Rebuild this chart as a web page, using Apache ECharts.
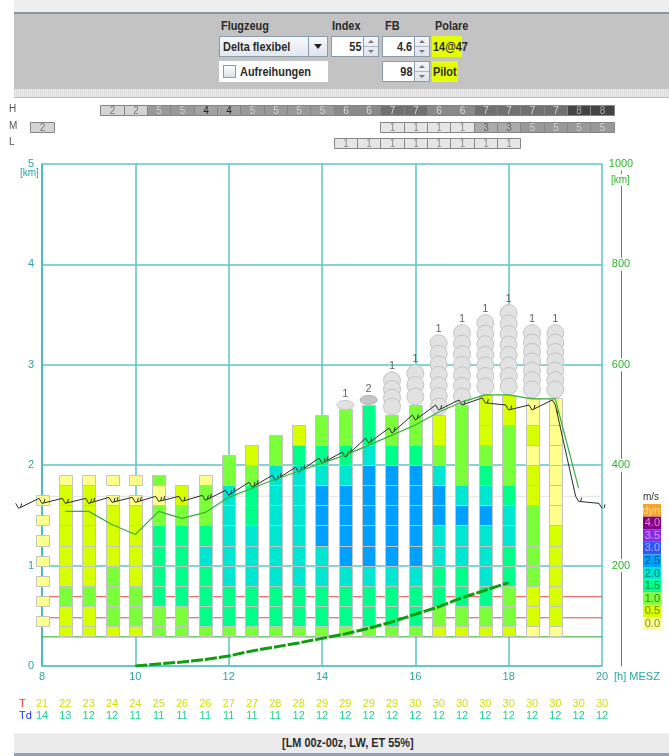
<!DOCTYPE html>
<html>
<head>
<meta charset="utf-8">
<script src="https://cdn.jsdelivr.net/npm/echarts@6/dist/echarts.min.js"></script>
<style>
html,body{margin:0;padding:0;width:669px;height:756px;overflow:hidden;background:#fff;}
#chart{position:absolute;left:0;top:0;width:669px;height:756px;}
.abs{position:absolute;box-sizing:border-box;}
.nf{font-family:"Liberation Sans",Arial,sans-serif;font-weight:bold;font-size:13px;color:#2b2b2b;white-space:nowrap;}
.n{display:inline-block;transform:scaleX(0.84);transform-origin:0 50%;}
.nr{display:inline-block;transform:scaleX(0.84);transform-origin:100% 50%;}
.field{position:absolute;box-sizing:border-box;background:#fff;border:1px solid #8b9bab;text-align:right;padding-right:2px;line-height:19px;height:21px;}
.spin{position:absolute;box-sizing:border-box;width:15px;height:21px;border:1px solid #8b9bab;border-left:none;background:linear-gradient(#f4f6f9,#dfe5ec);}
.spin .up{position:absolute;left:4px;top:3px;width:0;height:0;border-left:3px solid transparent;border-right:3px solid transparent;border-bottom:3px solid #777;}
.spin .dn{position:absolute;left:4px;bottom:3px;width:0;height:0;border-left:3px solid transparent;border-right:3px solid transparent;border-top:3px solid #777;}
.spin .mid{position:absolute;left:0;right:0;top:9px;height:1px;background:#b0bac4;}
.yel{position:absolute;box-sizing:border-box;background:#e4ff00;line-height:21px;height:21px;padding-left:1px;}
</style>
</head>
<body>
<div id="chart"></div>

<!-- top control panel -->
<div class="abs" style="left:14px;top:0;width:655px;height:12px;background:#eeeeee"></div>
<div class="abs" style="left:14px;top:12px;width:655px;height:2px;background:#8796a3"></div>
<div class="abs" style="left:14px;top:14px;width:655px;height:75px;background:#c3c3c3"></div>
<div class="abs" style="left:14px;top:89px;width:655px;height:8px;background:repeating-linear-gradient(90deg,#dcdcdc 0 1px,#ececec 1px 2px)"></div>
<div class="abs" style="left:14px;top:97px;width:655px;height:1px;background:#b8b8b8"></div>

<div class="abs nf" style="left:221px;top:18px"><span class="n">Flugzeug</span></div>
<div class="abs nf" style="left:332px;top:18px"><span class="n">Index</span></div>
<div class="abs nf" style="left:385px;top:18px"><span class="n">FB</span></div>
<div class="abs nf" style="left:435px;top:18px"><span class="n">Polare</span></div>

<div class="abs nf" style="left:219px;top:36px;width:90px;height:21px;border:1px solid #8b9bab;background:linear-gradient(#f6f8fb,#e2e8ef);line-height:19px;padding-left:3px"><span class="n">Delta flexibel</span></div>
<div class="abs" style="left:308px;top:36px;width:20px;height:21px;border:1px solid #8b9bab;background:linear-gradient(#f6f8fb,#dfe5ec)">
  <div style="position:absolute;left:5px;top:7px;width:0;height:0;border-left:4px solid transparent;border-right:4px solid transparent;border-top:5px solid #222"></div>
</div>

<div class="field nf" style="left:331px;top:36px;width:33px"><span class="nr">55</span></div>
<div class="spin" style="left:364px;top:36px"><div class="up"></div><div class="mid"></div><div class="dn"></div></div>

<div class="field nf" style="left:382px;top:36px;width:33px"><span class="nr">4.6</span></div>
<div class="spin" style="left:415px;top:36px"><div class="up"></div><div class="mid"></div><div class="dn"></div></div>

<div class="yel nf" style="left:432px;top:36px;width:30px"><span class="n">14@47</span></div>

<div class="abs" style="left:219px;top:61px;width:109px;height:21px;background:#fff"></div>
<div class="abs" style="left:223px;top:65px;width:13px;height:13px;border:1px solid #8b9bab;background:linear-gradient(#fafbfc,#dde3ea)"></div>
<div class="abs nf" style="left:240px;top:63px;line-height:17px"><span class="n">Aufreihungen</span></div>

<div class="field nf" style="left:382px;top:61px;width:33px"><span class="nr">98</span></div>
<div class="spin" style="left:415px;top:61px"><div class="up"></div><div class="mid"></div><div class="dn"></div></div>

<div class="yel nf" style="left:432px;top:61px;width:26px"><span class="n">Pilot</span></div>

<!-- status bar -->
<div class="abs" style="left:14px;top:733px;width:655px;height:20px;background:#ebebeb"></div>
<div class="abs nf" style="left:282px;top:733px;height:20px;line-height:20px;"><span class="n">[LM 00z-00z, LW, ET 55%]</span></div>
<div class="abs" style="left:14px;top:753px;width:655px;height:3px;background:#8fa2b5"></div>

<script>
// ---------------- DATA ----------------
const xMin = 8, xMax = 20, xStep = 2;
const yMin = 0, yMax = 5, yStep = 1;
const distMax = 1000, distStep = 200;

// climb-rate columns (half-hourly), cells from bottom; digit = class, letter = half cell of class
const colTimes = [8,8.5,9,9.5,10,10.5,11,11.5,12,12.5,13,13.5,14,14.5,15,15.5,16,16.5,17,17.5,18,18.5,19];
const colCells = [".aaaaaaa","11211111a","11211111a","1222111aa","1221111aa","22333320c","22333321","23334322a",
  "233444442","2334443321","2334444442","23344444431","23344555432","23345555432","23345555543","23345555532",
  "23345555532","12334455421","12334454222","123444543211","122334432221","011222211010","011111000000"];
const colTops = [null,null,null,null,null,null,null,null,2.1,null,2.3,null,2.5,2.56,2.6,2.5,2.6,2.5,2.6,2.7,2.7,2.67,2.67];

// clouds above columns
const cloudTimes  = [14.5,15,15.5,16,16.5,17,17.5,18,18.5,19];
const cloudBases  = [2.56,2.6,2.5,2.6,2.5,2.6,2.7,2.7,2.67,2.67];
const cloudTops   = [2.6,2.65,2.93,3.0,3.3,3.4,3.5,3.6,3.4,3.4];
const cloudCounts = [1,2,1,1,1,1,1,1,1,1];

// wind barbs
const barbTimes   = [7.5,8,8.5,9,9.5,10,10.5,11,11.5,12,12.5,13,13.5,14,14.5,15,15.5,16,16.5,17,17.5,18,18.5,19,19.5,20];
const barbHeights = [1.57,1.62,1.62,1.62,1.63,1.63,1.64,1.64,1.65,1.70,1.78,1.85,1.93,2.02,2.08,2.22,2.32,2.45,2.55,2.60,2.62,2.55,2.55,2.60,1.64,1.57];
const barbFeathers= [1,1,1,2,2,2,2,1,2,2,2,2,2,2,2,1,1,1,1,1,1,1,1,1,1,1];

// thermal-top line
const lineTimes   = [8.5,9,9.5,10,10.5,11,11.5,12,12.5,13,13.5,14,14.5,15,15.5,16,16.5,17,17.5,18,18.5,19,19.5];
const lineHeights = [1.54,1.54,1.41,1.31,1.54,1.47,1.53,1.68,1.77,1.86,1.94,2.02,2.10,2.20,2.30,2.40,2.53,2.63,2.70,2.70,2.66,2.66,1.77];

// distance (right axis, km)
const distTimes = [10,10.5,11,11.5,12,12.5,13,13.5,14,14.5,15,15.5,16,16.5,17,17.5,18];
const distKm    = [0,4,8,13,20,30,38,46,55,64,75,88,103,118,136,151,166];

// horizontal levels (km)
const levelHeights = [0.29,0.48,0.69,1.69];
const levelColors  = ['#27aa27','#e34b4b','#e34b4b','#e2e2e2'];

// T / Td
const tTimes = [8,8.5,9,9.5,10,10.5,11,11.5,12,12.5,13,13.5,14,14.5,15,15.5,16,16.5,17,17.5,18,18.5,19,19.5,20];
const tempT  = [21,22,23,24,24,25,26,26,27,27,28,28,29,29,29,29,30,30,30,30,30,30,30,30,30];
const tempTd = [14,13,12,12,11,11,11,11,11,11,11,12,12,12,12,12,12,12,12,12,12,12,12,12,12];

// cloud cover rows H / M / L (octas)
const hTimes = [9.5,10,10.5,11,11.5,12,12.5,13,13.5,14,14.5,15,15.5,16,16.5,17,17.5,18,18.5,19,19.5,20];
const hValues = [2,2,5,5,4,4,5,5,5,5,6,6,7,7,6,6,7,7,7,7,8,8];
const mTimes = [8,15.5,16,16.5,17,17.5,18,18.5,19,19.5,20];
const mValues = [2,1,1,1,1,3,3,5,5,5,5];
const lTimes = [14.5,15,15.5,16,16.5,17,17.5,18];
const lValues = [1,1,1,1,1,1,1,1];
const rowNames = ['H','M','L'];

// legend
const legendLabels = ['dyn','4.0','3.5','3.0','2.5','2.0','1.5','1.0','0.5','0.0'];
const climbColors = ['#ffff8c','#d6ff00','#7bff3a','#00ff8a','#00e6d0','#00a0ff','#2f55ff','#8a2be2','#880088','#f5a623'];

// ---------------- STYLE ----------------
const FONT = '"Liberation Sans", Arial, sans-serif';
const TEAL = '#2aa5a5';
const GRIDC = '#5cc4c4';
const GREEN = '#2db52d';
const octaFill = {1:'#e6e6e6',2:'#d4d4d4',3:'#ababab',4:'#a2a2a2',5:'#999999',6:'#8a8a8a',7:'#707070',8:'#434343'};
const octaText = {1:'#8a8a8a',2:'#7a7a7a',3:'#666666',4:'#222222',5:'#d0d0d0',6:'#dadada',7:'#d8d8d8',8:'#aaaaaa'};
const rowY = [105,122,138], rowH = 10;

function cellLo(i){ return i === 0 ? 0.3 : 0.2 + 0.2 * i; }
function cellHi(i){ return 0.4 + 0.2 * i; }
const px = v => Math.round(v) + 0.5;

const chart = echarts.init(document.getElementById('chart'), null, {renderer:'canvas'});

const series = [];

// level lines
levelHeights.forEach((h, i) => {
  series.push({type:'line', data:[[xMin,h],[xMax,h]], symbol:'none', silent:true, z:1,
    lineStyle:{color:levelColors[i], width:1}});
});

// climb cells
series.push({
  type:'custom', z:3, clip:false, silent:true,
  data: colTimes.map((t,j)=>[t,0,j]),
  renderItem:(params, api)=>{
    const t = api.value(0), j = api.value(2);
    const codes = colCells[j], top = colTops[j];
    const cx = api.coord([t,0])[0];
    const w = Math.round(api.size([0.28,0])[0]);
    const x0 = px(cx - w/2);
    const ch = [];
    for (let i=0;i<codes.length;i++){
      const c = codes[i];
      if (c === '.') continue;
      let lo = cellLo(i), hi = cellHi(i), idx, half = false;
      if (c >= '0' && c <= '9') idx = +c; else { idx = c.charCodeAt(0) - 97; half = true; }
      if (i === codes.length-1 && top != null) hi = top;
      if (half) hi = lo + (hi - lo)/2;
      const yT = px(api.coord([t,hi])[1]), yB = px(api.coord([t,lo])[1]);
      ch.push({type:'rect', shape:{x:x0, y:yT, width:w, height:yB-yT},
        style:{fill:climbColors[idx], stroke:'#c4c4c4', lineWidth:1}});
    }
    return {type:'group', children:ch};
  }
});

// clouds
series.push({
  type:'custom', z:4, clip:false, silent:true,
  data: cloudTimes.map((t,i)=>[t,cloudTops[i],cloudBases[i],cloudCounts[i]]),
  renderItem:(params, api)=>{
    const t = api.value(0), top = api.value(1), base = api.value(2), n = api.value(3);
    const cx = api.coord([t,0])[0];
    const yTop = api.coord([t,top])[1], yBase = api.coord([t,base])[1];
    const ch = [];
    let labelY;
    if (top - base < 0.15) {
      ch.push({type:'ellipse', shape:{cx:cx, cy:yTop, rx:8.5, ry:4.5},
        style:{fill: n > 1 ? '#c6c6c6' : '#e2e2e2', stroke: n > 1 ? '#b0b0b0' : '#c8c8c8', lineWidth:1}});
      labelY = yTop - 11;
    } else {
      const r = 8.5, H = yBase - yTop;
      const k = Math.max(2, Math.round((H - 2*r)/10) + 1);
      const step = (H - 2*r)/(k-1);
      for (let i=0;i<k;i++){
        ch.push({type:'circle', shape:{cx:cx, cy:yTop + r + i*step, r:r},
          style:{fill:'#e2e2e2', stroke:'#c4c4c4', lineWidth:1}});
      }
      labelY = yTop - 6;
    }
    ch.push({type:'text', style:{text:String(n), x:cx, y:labelY, fill:'#666', font:'11px '+FONT, align:'center', verticalAlign:'middle'}});
    return {type:'group', children:ch};
  }
});

// distance line (right axis)
series.push({type:'line', yAxisIndex:1, z:5, silent:true, symbol:'none',
  data: distTimes.map((t,i)=>[t,distKm[i]]),
  lineStyle:{color:'#0e9e0e', width:3, type:[12,2]}});

// wind barbs
series.push({
  type:'custom', z:6, clip:false, silent:true,
  data: barbTimes.map((t,k)=>[t,barbHeights[k],k]),
  renderItem:(params, api)=>{
    const k = api.value(2);
    const P = api.coord([barbTimes[k], barbHeights[k]]);
    const T = [P[0]-3, P[1]-5];
    const ch = [];
    const ls = {stroke:'#2a2a2a', lineWidth:1};
    if (k > 0) {
      const Q = api.coord([barbTimes[k-1], barbHeights[k-1]]);
      ch.push({type:'line', shape:{x1:Q[0],y1:Q[1],x2:T[0],y2:T[1]}, style:ls});
    }
    ch.push({type:'line', shape:{x1:T[0],y1:T[1],x2:P[0],y2:P[1]}, style:ls});
    let slope = 0;
    if (k < barbTimes.length-1) {
      const N = api.coord([barbTimes[k+1], barbHeights[k+1]]);
      slope = (N[1]-5-P[1])/((N[0]-3)-P[0]);
    }
    for (let f=0; f<barbFeathers[k]; f++){
      const bx = P[0] + 2 + 3*f, by = P[1] + slope*(2+3*f);
      ch.push({type:'line', shape:{x1:bx,y1:by,x2:bx+1,y2:by-4}, style:ls});
    }
    return {type:'group', children:ch};
  }
});

// thermal line
series.push({type:'line', z:7, silent:true, symbol:'none',
  data: lineTimes.map((t,i)=>[t,lineHeights[i]]),
  lineStyle:{color:'#38b038', width:1.2}});

// H / M / L rows
const rowData = [];
hTimes.forEach((t,i)=>rowData.push([t,0,hValues[i],0]));
mTimes.forEach((t,i)=>rowData.push([t,0,mValues[i],1]));
lTimes.forEach((t,i)=>rowData.push([t,0,lValues[i],2]));
series.push({
  type:'custom', z:3, clip:false, silent:true, data:rowData,
  renderItem:(params, api)=>{
    const t = api.value(0), v = api.value(2), r = api.value(3);
    const xa = px(api.coord([t-0.25,0])[0]), xb = px(api.coord([t+0.25,0])[0]);
    const y = rowY[r] + 0.5;
    return {type:'group', children:[
      {type:'rect', shape:{x:xa, y:y, width:xb-xa, height:rowH}, style:{fill:octaFill[v], stroke:'#858585', lineWidth:1}},
      {type:'text', style:{text:String(v), x:(xa+xb)/2, y:y+rowH/2+0.5, fill:octaText[v], font:'10px '+FONT, align:'center', verticalAlign:'middle'}}
    ]};
  }
});

// T / Td values
series.push({
  type:'custom', z:3, clip:false, silent:true,
  data: tTimes.map((t,i)=>[t,0,tempT[i],tempTd[i]]),
  renderItem:(params, api)=>{
    const x = api.coord([api.value(0),0])[0];
    return {type:'group', children:[
      {type:'text', style:{text:String(api.value(2)), x:x, y:704, fill:'#d2df00', font:'11px '+FONT, align:'center', verticalAlign:'middle'}},
      {type:'text', style:{text:String(api.value(3)), x:x, y:716, fill:'#1ccf98', font:'11px '+FONT, align:'center', verticalAlign:'middle'}}
    ]};
  }
});

// graphics: row names, T/Td names, km labels, legend
const graphic = [];
rowNames.forEach((n,i)=>graphic.push({type:'text', left:9, top:rowY[i]-1, style:{text:n, fill:'#555', font:'10px '+FONT}}));
graphic.push({type:'text', left:19, top:698, style:{text:'T', fill:'#ff3030', font:'11px '+FONT}});
graphic.push({type:'text', left:19, top:710, style:{text:'Td', fill:'#2030ff', font:'11px '+FONT}});
graphic.push({type:'text', left:20, top:168, style:{text:'[km]', fill:TEAL, font:'10px '+FONT}});
graphic.push({type:'text', left:611, top:174, z:10, style:{text:'[km]', fill:GREEN, font:'10px '+FONT, backgroundColor:'#fff', padding:[1,0,1,0]}});
graphic.push({type:'text', left:643, top:492, style:{text:'m/s', fill:'#333', font:'10px '+FONT}});
legendLabels.forEach((lab,i)=>{
  const ci = climbColors.length-1-i;
  const col = climbColors[ci];
  const dark = ci >= 6 || ci === 9;
  graphic.push({type:'rect', left:643, top:504 + i*12.6, shape:{width:18, height:12.6}, style:{fill:col}});
  graphic.push({type:'text', right:669-660, top:504 + i*12.6 + 1, style:{text:lab, fill: dark ? 'rgba(255,255,255,0.55)' : 'rgba(0,0,0,0.5)', font:'11px '+FONT}});
});

chart.setOption({
  animation:false,
  grid:{left:42, right:67, top:164, bottom:90, containLabel:false},
  xAxis:{type:'value', min:xMin, max:xMax, interval:xStep,
    axisLine:{show:true, onZero:false, lineStyle:{color:GRIDC, width:1.5}},
    axisTick:{show:false},
    axisLabel:{color:TEAL, fontSize:11, fontFamily:FONT, margin:5},
    splitLine:{show:true, lineStyle:{color:GRIDC, width:1.5}},
    name:'[h] MESZ', nameLocation:'end', nameGap:10,
    nameTextStyle:{color:TEAL, fontSize:11, fontFamily:FONT, verticalAlign:'top', padding:[5,0,0,0]}},
  yAxis:[
    {type:'value', min:yMin, max:yMax, interval:yStep, position:'left',
      axisLine:{show:true, lineStyle:{color:'#3ab5b5', width:1.5}},
      axisTick:{show:false},
      axisLabel:{color:TEAL, fontSize:11, fontFamily:FONT, margin:8},
      splitLine:{show:true, lineStyle:{color:GRIDC, width:1.5}}},
    {type:'value', min:0, max:distMax, interval:distStep, position:'right', offset:19,
      axisLine:{show:true, lineStyle:{color:'#2aab2a', width:1}},
      axisTick:{show:false}, splitLine:{show:false},
      axisLabel:{color:GREEN, fontSize:11, fontFamily:FONT, align:'center', margin:0,
        backgroundColor:'#fff', padding:[1,0,1,0], formatter:v=> v===0 ? '' : String(v)}}
  ],
  graphic: graphic,
  series: series
});
</script>
</body>
</html>
